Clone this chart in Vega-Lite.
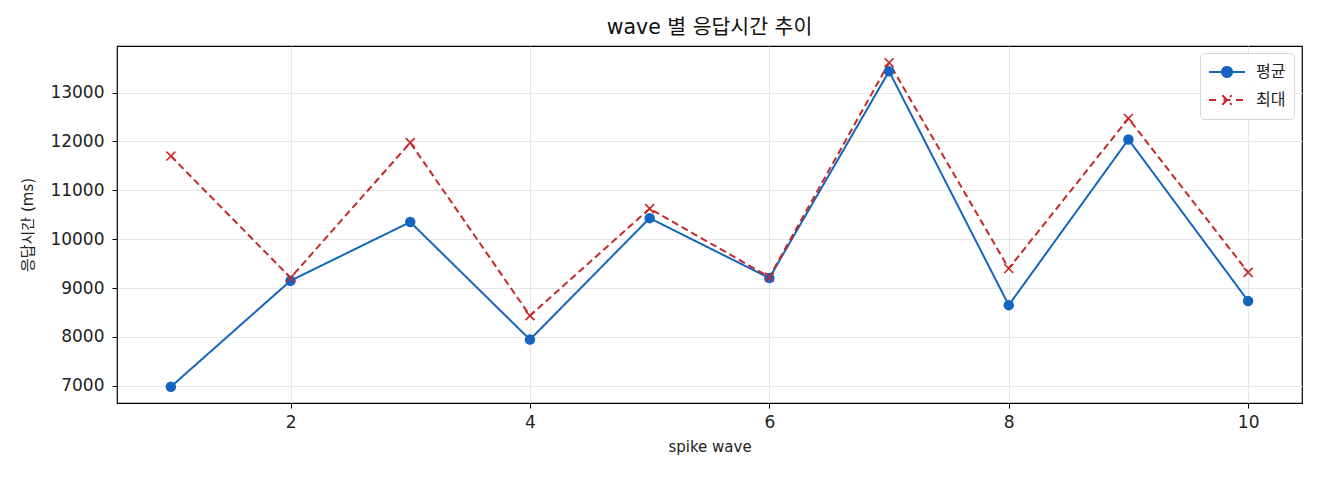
{
  "$schema": "https://vega.github.io/schema/vega-lite/v6.json",
  "width": 1185,
  "height": 357,
  "autosize": {"type": "none"},
  "padding": {"left": 117, "top": 46, "right": 18, "bottom": 77},
  "background": "white",
  "title": {
    "text": "wave 별 응답시간 추이",
    "font": "DejaVu Sans, Noto Sans CJK KR",
    "fontSize": 20.5,
    "fontWeight": "normal",
    "color": "#111111",
    "anchor": "middle",
    "offset": 8
  },
  "config": {
    "view": {"stroke": "black", "strokeWidth": 1.2},
    "axis": {
      "domain": false,
      "grid": true,
      "gridColor": "#e6e6e6",
      "gridWidth": 1,
      "tickColor": "black",
      "tickSize": 5,
      "tickWidth": 1,
      "labelFont": "DejaVu Sans",
      "labelFontSize": 17,
      "labelColor": "#222222",
      "labelPadding": 6,
      "titleFont": "DejaVu Sans, Noto Sans CJK KR",
      "titleFontSize": 15,
      "titleFontWeight": "normal",
      "titleColor": "#222222"
    }
  },
  "data": {
    "values": [
      {"wave": 1, "series": "평균", "ms": 6980},
      {"wave": 2, "series": "평균", "ms": 9150},
      {"wave": 3, "series": "평균", "ms": 10350},
      {"wave": 4, "series": "평균", "ms": 7945},
      {"wave": 5, "series": "평균", "ms": 10430},
      {"wave": 6, "series": "평균", "ms": 9205},
      {"wave": 7, "series": "평균", "ms": 13435},
      {"wave": 8, "series": "평균", "ms": 8650},
      {"wave": 9, "series": "평균", "ms": 12040},
      {"wave": 10, "series": "평균", "ms": 8735},
      {"wave": 1, "series": "최대", "ms": 11700},
      {"wave": 2, "series": "최대", "ms": 9210},
      {"wave": 3, "series": "최대", "ms": 11975},
      {"wave": 4, "series": "최대", "ms": 8435},
      {"wave": 5, "series": "최대", "ms": 10625},
      {"wave": 6, "series": "최대", "ms": 9225},
      {"wave": 7, "series": "최대", "ms": 13610},
      {"wave": 8, "series": "최대", "ms": 9400},
      {"wave": 9, "series": "최대", "ms": 12470},
      {"wave": 10, "series": "최대", "ms": 9320}
    ]
  },
  "encoding": {
    "x": {
      "field": "wave",
      "type": "quantitative",
      "scale": {"domain": [0.55, 10.45], "nice": false, "zero": false},
      "axis": {"values": [2, 4, 6, 8, 10], "title": "spike wave", "titlePadding": 9}
    },
    "y": {
      "field": "ms",
      "type": "quantitative",
      "scale": {"domain": [6648, 13952], "nice": false, "zero": false},
      "axis": {
        "values": [7000, 8000, 9000, 10000, 11000, 12000, 13000],
        "format": "d",
        "title": "응답시간 (ms)",
        "labelPadding": 8,
        "titlePadding": 14
      }
    }
  },
  "layer": [
    {
      "mark": {"type": "line", "strokeWidth": 2},
      "encoding": {
        "color": {
          "field": "series",
          "type": "nominal",
          "scale": {"domain": ["평균", "최대"], "range": ["#1565c0", "#c62828"]},
          "legend": {
            "orient": "none",
            "legendX": 1083,
            "legendY": 7,
            "title": null,
            "symbolSize": 1296,
            "clipHeight": 22,
            "rowPadding": 6,
            "padding": 8,
            "labelOffset": 10,
            "labelFont": "Noto Sans CJK KR",
            "labelFontSize": 16,
            "labelColor": "#222222",
            "fillColor": "rgba(255,255,255,0.85)",
            "strokeColor": "#d6d6d6",
            "cornerRadius": 4,
            "symbolStrokeWidth": 2,
            "encode": {
              "symbols": {
                "update": {
                  "shape": {"signal": "datum.value === '평균' ? 'M-1,0L1,0M-0.28,0A0.28,0.28,0,1,1,0.28,0A0.28,0.28,0,1,1,-0.28,0' : 'M-1,0L-0.5,0M-0.2,0L0.2,0M0.5,0L1,0M-0.26,-0.26L0.26,0.26M-0.26,0.26L0.26,-0.26'"},
                  "fill": {"signal": "datum.value === '평균' ? '#1565c0' : 'transparent'"},
                  "strokeWidth": {"value": 2}
                }
              }
            }
          }
        },
        "strokeDash": {
          "field": "series",
          "type": "nominal",
          "scale": {"domain": ["평균", "최대"], "range": [[1, 0], [7, 4]]},
          "legend": null
        }
      }
    },
    {
      "transform": [{"filter": "datum.series === '평균'"}],
      "mark": {"type": "point", "shape": "circle", "filled": true, "size": 110, "color": "#1565c0", "opacity": 1}
    },
    {
      "transform": [{"filter": "datum.series === '최대'"}],
      "mark": {"type": "point", "shape": "M-1,-1L1,1M-1,1L1,-1", "filled": false, "size": 80, "stroke": "#c62828", "strokeWidth": 1.6, "opacity": 1}
    }
  ]
}
